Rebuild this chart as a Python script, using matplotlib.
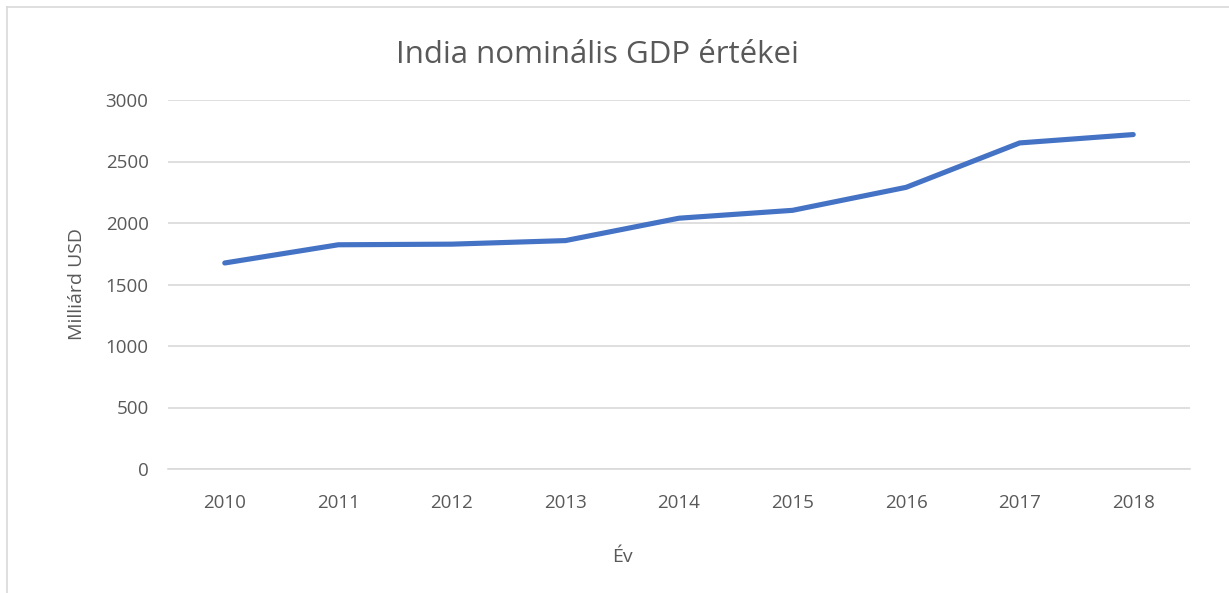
import matplotlib.pyplot as plt

# adatok
evek = ['2010', '2011', '2012', '2013', '2014', '2015', '2016', '2017', '2018']
gdp = [1675, 1823, 1828, 1857, 2039, 2103, 2290, 2651, 2719]
y_ticks = [0, 500, 1000, 1500, 2000, 2500, 3000]

plt.rcParams['font.family'] = ['Open Sans', 'DejaVu Sans']
szurke = '#595959'

fig = plt.figure(figsize=(12.29, 5.93), dpi=100)
ax = fig.add_axes([168 / 1229, 1 - 469 / 593, (1190 - 168) / 1229, (469 - 100) / 593])

x = list(range(len(evek)))
ax.plot(x, gdp, color='#4472C4', linewidth=3.7, solid_capstyle='round', solid_joinstyle='round', zorder=3)

ax.set_xlim(-0.5, len(evek) - 0.5)
ax.set_ylim(0, 3000)
ax.set_yticks(y_ticks)
ax.set_xticks(x)
ax.set_xticklabels(evek)
ax.grid(axis='y', color='#d9d9d9', linewidth=1.2)
ax.set_axisbelow(True)
for s in ['top', 'right', 'left']:
    ax.spines[s].set_visible(False)
ax.spines['bottom'].set_color('#d9d9d9')
ax.spines['bottom'].set_linewidth(1.2)
ax.tick_params(axis='both', length=0, colors=szurke, labelsize=13.5)
ax.tick_params(axis='x', pad=18)
ax.tick_params(axis='y', pad=14)

# cim es tengelyfeliratok (Excel szerint nem a rajzterulet kozepen)
fig.text(597 / 1229, 1 - 55 / 593, 'India nominális GDP értékei', fontsize=22.5,
         color=szurke, ha='center', va='center')
fig.text(622 / 1229, 1 - 557 / 593, 'Év', fontsize=14, color=szurke, ha='center', va='center')
ax.set_ylabel('Milliárd USD', fontsize=14, color=szurke, labelpad=14)

# keret
fig.add_artist(plt.Line2D([7 / 1229, 7 / 1229], [0, 1 - 7 / 593], color='#d9d9d9', linewidth=1.2))
fig.add_artist(plt.Line2D([7 / 1229, 1], [1 - 7 / 593, 1 - 7 / 593], color='#d9d9d9', linewidth=1.2))

fig.savefig('out.png', dpi=100)
